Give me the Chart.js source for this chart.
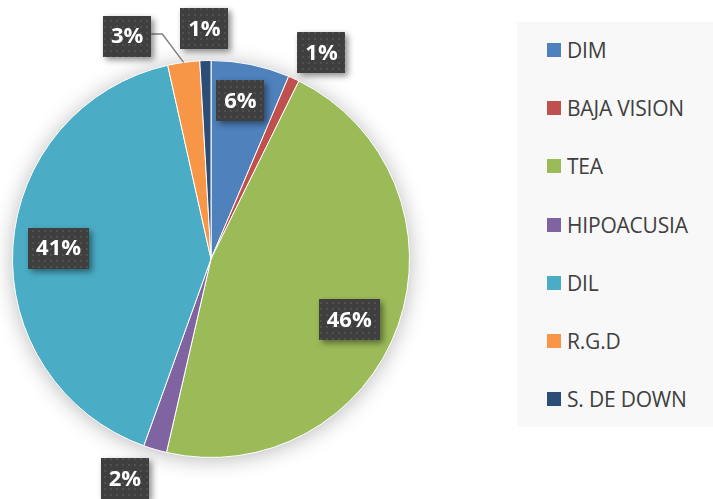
<!DOCTYPE html>
<html>
<head>
<meta charset="utf-8">
<script src="https://cdn.jsdelivr.net/npm/chart.js@4/dist/chart.umd.min.js"></script>
<style>
  html, body { margin: 0; padding: 0; background: #ffffff; }
  #wrap { position: relative; width: 713px; height: 499px; overflow: hidden; }
  #c { position: absolute; left: 0; top: 0; }
  #legend { position: absolute; left: 517px; top: 22px; width: 196px; height: 405px; background: #f8f8f8; }
  .item { position: absolute; left: 30px; height: 24px; display: flex; align-items: center;
          font-family: "Open Sans", sans-serif; font-size: 21px; letter-spacing: -0.2px; color: #404040; white-space: nowrap; }
  .sw { width: 14px; height: 14px; margin-right: 6px; flex: none; }
</style>
</head>
<body>
<div id="wrap">
  <canvas id="c" width="713" height="499"></canvas>
  <div id="legend"></div>
</div>
<script>
// ---- data ----
const categories = ["DIM", "BAJA VISION", "TEA", "HIPOACUSIA", "DIL", "R.G.D", "S. DE DOWN"];
const shares = [6.4, 0.9, 46.3, 1.9, 41.0, 2.6, 0.9];
const sliceColors = ["#4F81BD", "#C0504D", "#9BBB59", "#8064A2", "#4BACC6", "#F79646", "#2C4D75"];

// label placement relative to each slice (radius factor, angle shift in degrees)
const labelPlacement = [
  { f: 0.81, da: -1 },
  { f: 1.18, da: 3.5 },
  { f: 0.76, da: 4 },
  { f: 1.19, da: 5 },
  { f: 0.77, da: 0.5 },
  { f: 1.20, da: -12.7, leader: true },
  { f: 1.16, da: 0 }
];

// ---- legend (HTML) ----
const legend = document.getElementById('legend');
categories.forEach((name, i) => {
  const d = document.createElement('div');
  d.className = 'item';
  d.style.top = (28 - 12 + i * 58.2) + 'px';
  d.innerHTML = '<span class="sw" style="background:' + sliceColors[i] + '"></span><span>' + name + '</span>';
  legend.appendChild(d);
});

// dotted dark pattern for label boxes
function makePattern(ctx) {
  const p = document.createElement('canvas');
  p.width = 6; p.height = 6;
  const pc = p.getContext('2d');
  pc.fillStyle = '#3f3f3f';
  pc.fillRect(0, 0, 6, 6);
  pc.fillStyle = '#505050';
  pc.fillRect(2, 2, 2, 2);
  return ctx.createPattern(p, 'repeat');
}

const shadowPlugin = {
  id: 'pieShadow',
  beforeDatasetsDraw(chart) {
    const arc = chart.getDatasetMeta(0).data[0];
    if (!arc) return;
    const ctx = chart.ctx;
    ctx.save();
    ctx.shadowColor = 'rgba(0,0,0,0.30)';
    ctx.shadowBlur = 22;
    ctx.shadowOffsetX = 0;
    ctx.shadowOffsetY = 2;
    ctx.fillStyle = '#ffffff';
    ctx.beginPath();
    ctx.arc(arc.x, arc.y, arc.outerRadius - 1, 0, Math.PI * 2);
    ctx.fill();
    ctx.restore();
  }
};

const labelPlugin = {
  id: 'boxLabels',
  afterDatasetsDraw(chart) {
    const ctx = chart.ctx;
    const meta = chart.getDatasetMeta(0);
    const pattern = makePattern(ctx);
    const total = shares.reduce((a, b) => a + b, 0);
    ctx.save();
    ctx.font = 'bold 22px "Open Sans", sans-serif';
    meta.data.forEach((arc, i) => {
      const pl = labelPlacement[i];
      const mid = (arc.startAngle + arc.endAngle) / 2;
      const a = mid + pl.da * Math.PI / 180;
      const r = arc.outerRadius;
      const x = arc.x + Math.cos(a) * r * pl.f;
      const y = arc.y + Math.sin(a) * r * pl.f;
      const txt = Math.round(shares[i] / total * 100) + '%';
      const tw = ctx.measureText(txt).width;
      const w = tw + 16, h = 41;
      if (pl.leader) {
        const ex = arc.x + Math.cos(mid) * r;
        const ey = arc.y + Math.sin(mid) * r;
        ctx.save();
        ctx.strokeStyle = '#808080';
        ctx.lineWidth = 1.5;
        ctx.beginPath();
        ctx.moveTo(x + w / 2, y - 2);
        ctx.lineTo(x + w / 2 + 11, y - 2);
        ctx.lineTo(ex, ey);
        ctx.stroke();
        ctx.restore();
      }
      ctx.save();
      ctx.shadowColor = 'rgba(0,0,0,0.45)';
      ctx.shadowBlur = 6;
      ctx.shadowOffsetX = 3;
      ctx.shadowOffsetY = 3;
      ctx.fillStyle = pattern;
      ctx.fillRect(Math.round(x - w / 2), Math.round(y - h / 2), Math.round(w), h);
      ctx.restore();
      ctx.fillStyle = '#ffffff';
      ctx.textAlign = 'center';
      ctx.textBaseline = 'middle';
      ctx.fillText(txt, x, y + 1);
    });
    ctx.restore();
  }
};

new Chart(document.getElementById('c'), {
  type: 'pie',
  data: {
    labels: categories,
    datasets: [{
      data: shares,
      backgroundColor: sliceColors,
      borderColor: '#ffffff',
      borderWidth: 1
    }]
  },
  options: {
    responsive: false,
    animation: false,
    events: [],
    layout: { padding: { left: 12, right: 303, top: 60, bottom: 41 } },
    plugins: {
      legend: { display: false },
      tooltip: { enabled: false }
    }
  },
  plugins: [shadowPlugin, labelPlugin]
});
</script>
</body>
</html>
